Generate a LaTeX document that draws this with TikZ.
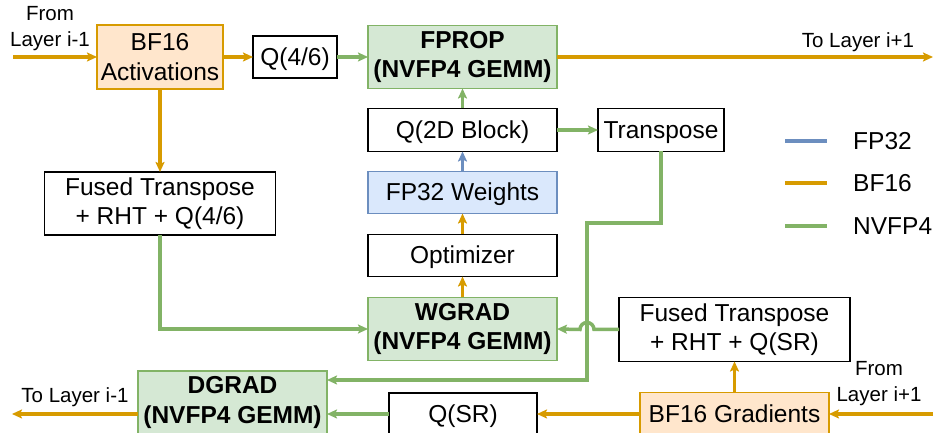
\documentclass[tikz,border=0pt]{standalone}
\usepackage{fontspec}
\setmainfont{Liberation Sans}
\usetikzlibrary{positioning,calc,arrows.meta}
\definecolor{bforange}{HTML}{D79B00}
\definecolor{bffill}{HTML}{FFE6CC}
\definecolor{nvgreen}{HTML}{82B366}
\definecolor{nvfill}{HTML}{D5E8D4}
\definecolor{fpblue}{HTML}{6C8EBF}
\definecolor{fpfill}{HTML}{DAE8FC}

\begin{document}
\begin{tikzpicture}[
  x = 1pt,
  y = 1pt,
  box/.style = {
    draw,
    rectangle,
    fill = white,
    line width = 1.8pt,
    inner sep = 0pt,
    outer sep = 0pt,
    align = center,
    font = \fontsize{24.5}{29.5}\selectfont,
  },
  oneline/.style = {
    text height = 18pt,
    text depth = 1pt,
  },
  gemm/.style = {
    box,
    draw = nvgreen,
    fill = nvfill,
    font = \bfseries\fontsize{24.5}{29.5}\selectfont,
  },
  bfbox/.style = {
    box,
    draw = bforange,
    fill = bffill,
  },
  fpbox/.style = {
    box,
    draw = fpblue,
    fill = fpfill,
  },
  bf/.style = {draw = bforange, line width = 3.5pt},
  nv/.style = {draw = nvgreen, line width = 3.5pt},
  fp/.style = {draw = fpblue, line width = 3.5pt},
  lbl/.style = {
    inner sep = 0pt,
    align = center,
    font = \fontsize{20.5}{26}\selectfont,
  },
  >={Stealth[length=10pt,width=9pt,inset=2pt]},
]
  \useasboundingbox (0,0) rectangle (935,433);

  % forward row
  \node[bfbox,minimum width=126pt,minimum height=64pt] (act) at (160,376) {BF16\\Activations};
  \node[box,oneline,minimum width=84pt,minimum height=42pt] (q46) [right=30pt of act] {Q(4/6)};
  \node[gemm,minimum width=189pt,minimum height=63pt] (fprop) [right=31pt of q46] {FPROP\\(NVFP4 GEMM)};

  % weight column
  \node[box,oneline,minimum width=189pt,minimum height=43pt] (q2d) [below=20pt of fprop] {Q(2D Block)};
  \node[fpbox,oneline,minimum width=189pt,minimum height=42pt] (fp32) [below=20pt of q2d] {FP32 Weights};
  \node[box,oneline,minimum width=189pt,minimum height=42pt] (opt) [below=21pt of fp32] {Optimizer};
  \node[gemm,minimum width=189pt,minimum height=63pt] (wgrad) [below=21pt of opt] {WGRAD\\(NVFP4 GEMM)};
  \node[box,oneline,minimum width=126pt,minimum height=43pt] (trans) [right=41pt of q2d] {Transpose};

  \node[box,minimum width=231pt,minimum height=63pt] (fused46) [below=83pt of act] {Fused Transpose\\+ RHT + Q(4/6)};

  % backward row
  \node[box,minimum width=231pt,minimum height=64pt] (fsr) at (734.5,103.5) {Fused Transpose\\+ RHT + Q(SR)};
  \node[bfbox,oneline,minimum width=189pt,minimum height=43pt] (grad) [below=31pt of fsr] {BF16 Gradients};
  \node[box,oneline,minimum width=148pt,minimum height=42pt] (qsr) [left=103pt of grad] {Q(SR)};
  \node[gemm,minimum width=189pt,minimum height=63pt] (dgrad) at (232.5,30.5) {DGRAD\\(NVFP4 GEMM)};

  % outer labels
  \node[lbl] (fromdown) at (50,404) {From\\Layer i-1};
  \node[lbl] (toup) at (858,391) {To Layer i+1};
  \node[lbl] (fromup) at (879,49) {From\\Layer i+1};
  \node[lbl] (todown) at (75,36) {To Layer i-1};

  \coordinate (inact) at (13,376);
  \coordinate (outfp) at (933,376);
  \coordinate (ingrad) at (933,19);
  \coordinate (outdg) at (12,19);
  \coordinate (tb1) at (587,210);
  \coordinate (tb2) at (587,53);

  % BF16
  \draw[bf,->] (inact) -- (act);
  \draw[bf,->] (act) -- (q46);
  \draw[bf,->] (fprop) -- (outfp);
  \draw[bf,->] (act.south) -- (act.south |- fused46.north);
  \draw[bf,->] (wgrad) -- (opt);
  \draw[bf,->] (opt) -- (fp32);
  \draw[bf,->] (ingrad) -- (grad);
  \draw[bf,->] (grad) -- (fsr);
  \draw[bf,->] (grad) -- (qsr);
  \draw[bf,->] (dgrad.west |- outdg) -- (outdg);

  % FP32
  \draw[fp,->] (fp32) -- (q2d);

  % NVFP4
  \draw[nv,->] (q46) -- (fprop);
  \draw[nv,->] (q2d) -- (fprop);
  \draw[nv,->] (q2d) -- (trans);
  \draw[nv,->] (fused46.south) |- (wgrad.west);
  \draw[nv,->] (trans.south) |- (tb1) -- (tb2) -- (tb2 -| dgrad.east);
  \draw[nv,->] (fsr.west) -- ($(fsr.west -| tb1)+(7,0)$) arc[start angle=0,end angle=180,radius=7] -- (wgrad.east);
  \draw[nv,->] (qsr.west) -- (qsr.west -| dgrad.east);

  % legend
  \node[lbl,anchor=west,font=\fontsize{24.5}{29.5}\selectfont] (legfp) at (853,292) {FP32};
  \node[lbl,anchor=west,font=\fontsize{24.5}{29.5}\selectfont] (legbf) at (853,250) {BF16};
  \node[lbl,anchor=west,font=\fontsize{24.5}{29.5}\selectfont] (legnv) at (853,207) {NVFP4};
  \draw[fp] (785,292) -- (827,292);
  \draw[bf] (785,250) -- (827,250);
  \draw[nv] (785,207) -- (827,207);

\end{tikzpicture}
\end{document}
